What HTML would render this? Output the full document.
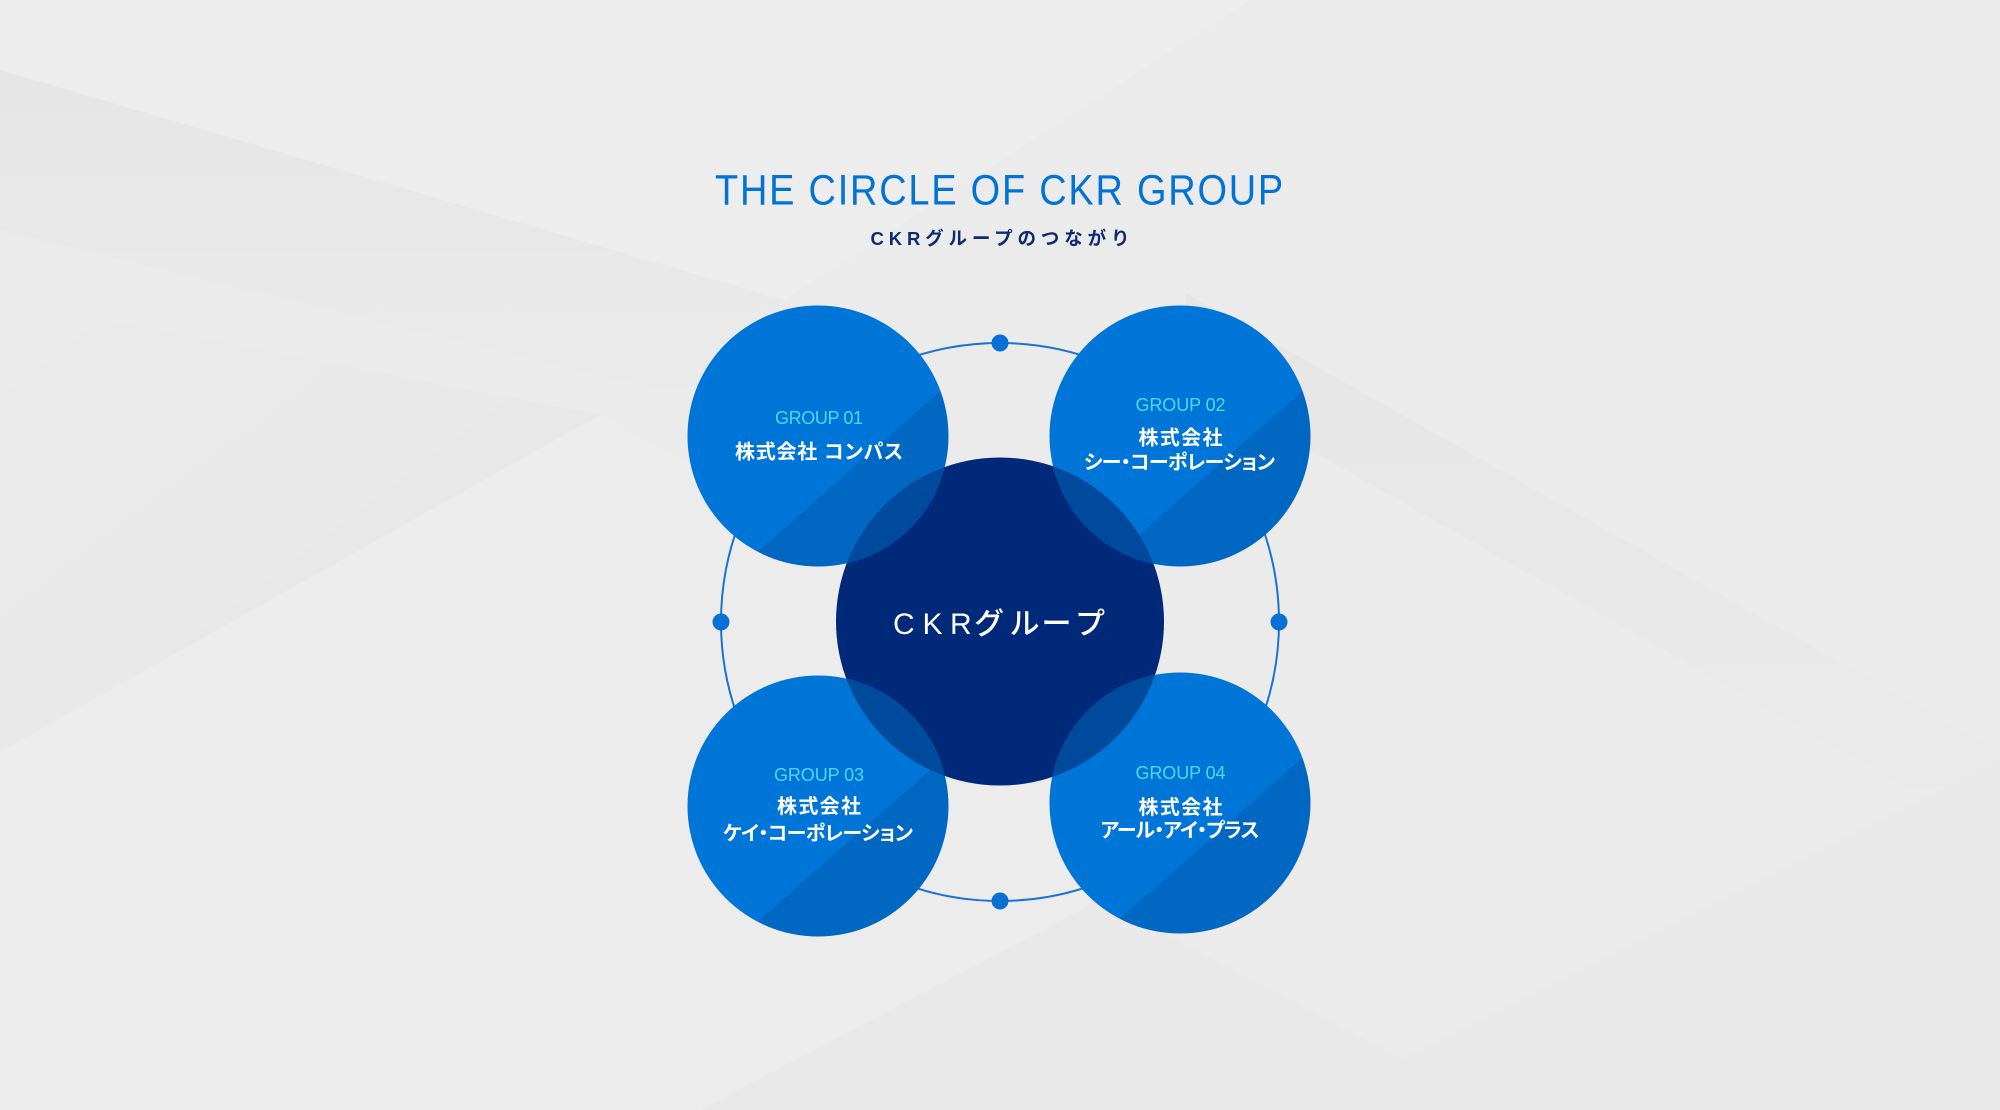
<!DOCTYPE html>
<html>
<head>
<meta charset="utf-8">
<style>
  html,body{margin:0;padding:0;background:#ebebeb;}
  body{width:2000px;height:1110px;overflow:hidden;}
  svg{display:block;}
  text{font-family:"Liberation Sans","Noto Sans CJK JP",sans-serif;}
  .ttl{font-size:42.5px;fill:#0073d5;letter-spacing:2px;}
  .sub{font-size:18.5px;font-weight:700;fill:#0d2b6e;}
  .grp{font-size:18px;fill:#55d6f6;}
  .nm{font-size:20px;font-weight:700;fill:#ffffff;font-feature-settings:"palt" 1;}
  .ctr{font-size:30px;font-weight:500;fill:#ffffff;}
</style>
</head>
<body>
<svg width="2000" height="1110" viewBox="0 0 2000 1110" xmlns="http://www.w3.org/2000/svg">
  <defs>
    <linearGradient id="gc" x1="0.17" y1="0.125" x2="0.83" y2="0.875">
      <stop offset="0.68" stop-color="#0075d8"/>
      <stop offset="0.68" stop-color="#0068c2"/>
    </linearGradient>
    <clipPath id="cc"><circle cx="1000" cy="621.5" r="164"/></clipPath>
    <linearGradient id="sh1" x1="0" y1="0" x2="0" y2="1">
      <stop offset="0" stop-color="#000" stop-opacity="0.022"/>
      <stop offset="1" stop-color="#000" stop-opacity="0"/>
    </linearGradient>
    <linearGradient id="sh2" x1="1" y1="1" x2="0" y2="0">
      <stop offset="0" stop-color="#000" stop-opacity="0.02"/>
      <stop offset="1" stop-color="#000" stop-opacity="0"/>
    </linearGradient>
  </defs>

  <!-- background -->
  <rect x="0" y="0" width="2000" height="1110" fill="#ebebeb"/>
  <polygon points="0,0 1250,0 784,300 0,70" fill="#ededed"/>
  <polygon points="0,70 784,300 784,420 0,230" fill="url(#sh1)"/>
  <polygon points="0,300 600,415 0,752" fill="url(#sh2)"/>
  <polygon points="0,752 600,415 1150,720 1150,1110 0,1110" fill="#ececec"/>
  <polygon points="1250,0 2000,0 2000,332 1403,650 1186,293" fill="#ebebeb"/>
  <polygon points="1186,293 2000,752 2000,840 1186,380" fill="url(#sh1)"/>
  <polygon points="1300,1110 2000,760 2000,1110" fill="#e9e9e9"/>
  <polygon points="700,1110 1100,900 1500,1110" fill="#e9e9e9"/>

  <!-- title -->
  <text class="ttl" x="1000" y="204.5" text-anchor="middle" textLength="570" lengthAdjust="spacingAndGlyphs">THE CIRCLE OF CKR GROUP</text>
  <text class="sub" x="1000" y="245" text-anchor="middle" textLength="259" lengthAdjust="spacing">CKRグループのつながり</text>

  <!-- ring -->
  <circle cx="1000" cy="622" r="279" fill="none" stroke="#1a73d2" stroke-width="2"/>
  <circle cx="1000" cy="343" r="8.5" fill="#0a70d6"/>
  <circle cx="1000" cy="901" r="8.5" fill="#0a70d6"/>
  <circle cx="721" cy="622" r="8.5" fill="#0a70d6"/>
  <circle cx="1279" cy="622" r="8.5" fill="#0a70d6"/>

  <!-- center -->
  <circle cx="1000" cy="621.5" r="164" fill="#00297a"/>

  <!-- groups -->
  <circle cx="818" cy="436" r="130.5" fill="url(#gc)"/>
  <circle cx="1180" cy="436" r="130.5" fill="url(#gc)"/>
  <circle cx="818" cy="806" r="130.5" fill="url(#gc)"/>
  <circle cx="1180" cy="803" r="130.5" fill="url(#gc)"/>

  <!-- overlaps -->
  <g clip-path="url(#cc)" fill="#004a9e">
    <circle cx="818" cy="436" r="130.5"/>
    <circle cx="1180" cy="436" r="130.5"/>
    <circle cx="818" cy="806" r="130.5"/>
    <circle cx="1180" cy="803" r="130.5"/>
  </g>

  <!-- center label -->
  <text class="ctr" x="893 922.5 950 974 1009.5 1041.5 1075" y="634">CKRグループ</text>

  <!-- group 01 -->
  <text class="grp" x="819" y="424" text-anchor="middle" textLength="88" lengthAdjust="spacing">GROUP 01</text>
  <text class="nm" x="819" y="458.5" text-anchor="middle" textLength="168" lengthAdjust="spacing">株式会社 コンパス</text>

  <!-- group 02 -->
  <text class="grp" x="1180.5" y="411" text-anchor="middle" textLength="90" lengthAdjust="spacing">GROUP 02</text>
  <text class="nm" x="1180.5" y="444.5" text-anchor="middle" textLength="84" lengthAdjust="spacing">株式会社</text>
  <text class="nm" x="1179.5" y="469" text-anchor="middle" textLength="191" lengthAdjust="spacing">シー・コーポレーション</text>

  <!-- group 03 -->
  <text class="grp" x="819" y="781" text-anchor="middle" textLength="90" lengthAdjust="spacing">GROUP 03</text>
  <text class="nm" x="819" y="813" text-anchor="middle" textLength="84" lengthAdjust="spacing">株式会社</text>
  <text class="nm" x="818" y="840" text-anchor="middle" textLength="190" lengthAdjust="spacing">ケイ・コーポレーション</text>

  <!-- group 04 -->
  <text class="grp" x="1180.5" y="779" text-anchor="middle" textLength="90" lengthAdjust="spacing">GROUP 04</text>
  <text class="nm" x="1180.5" y="814" text-anchor="middle" textLength="84" lengthAdjust="spacing">株式会社</text>
  <text class="nm" x="1180" y="837" text-anchor="middle" textLength="159" lengthAdjust="spacing">アール・アイ・プラス</text>
</svg>
</body>
</html>
